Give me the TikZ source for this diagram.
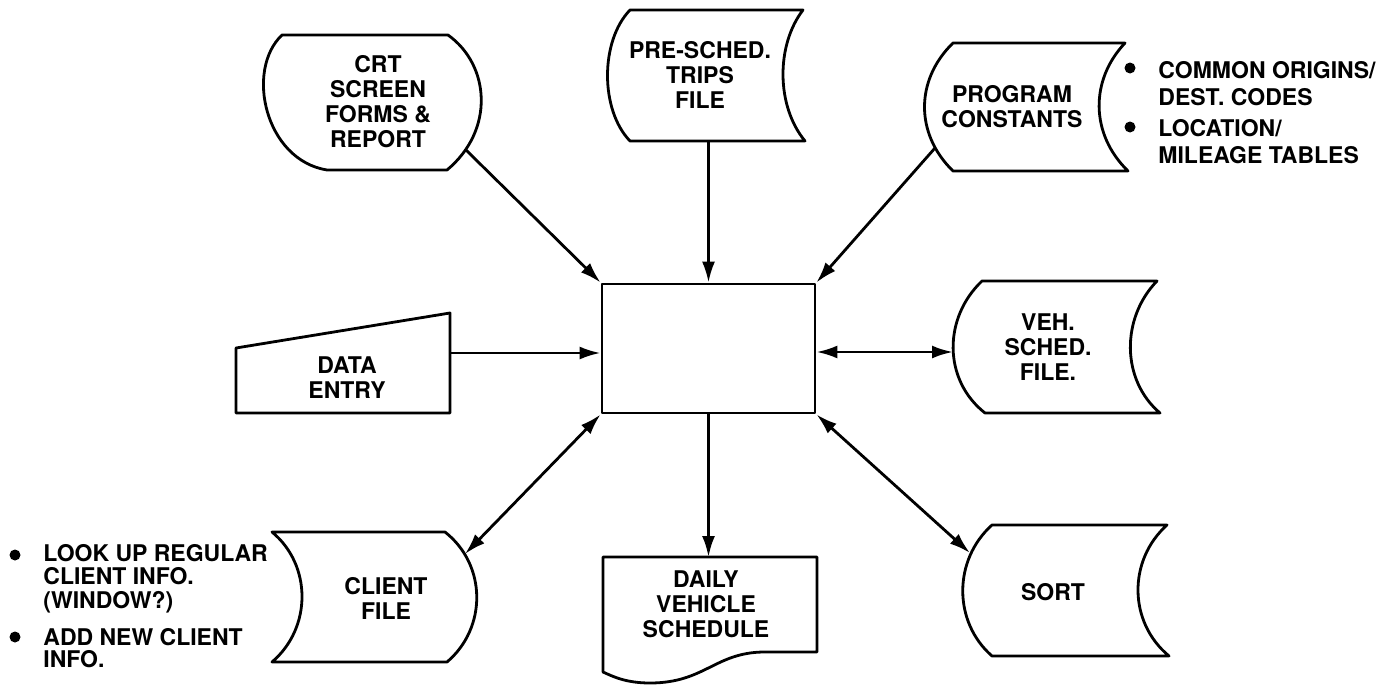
\documentclass[tikz,border=0pt]{standalone}
\usepackage{fontspec}
\setmainfont{TeX Gyre Heros}
\usetikzlibrary{arrows.meta}

\begin{document}
\begin{tikzpicture}[x=0.5pt, y=-0.5pt, line width=1.4pt, line join=round,
    font=\fontsize{11.5}{12.5}\selectfont\bfseries]
    \tikzset{ lbl/.style={align=center, inner sep=0pt},
              note/.style={align=left, anchor=west, inner sep=0pt},
              dot/.style={circle, fill, inner sep=0pt, minimum size=5.5pt},
              arr/.style={-{Latex[length=10.5pt, width=6.5pt]}},
              biarr/.style={{Latex[length=10.5pt, width=6.5pt]}-{Latex[length=10.5pt, width=6.5pt]}} }
    \useasboundingbox (0,0) rectangle (1393,685);

    \node[draw, minimum width=106.5pt, minimum height=64.5pt, inner sep=0pt] (proc) at (708.5,348.5) {};

    % crt screen forms
    \draw (282,35) -- (448,35) .. controls (490,65) and (495,130) .. (447,170) -- (327,170) .. controls (265,160) and (245,70) .. cycle;
    \node[lbl] (crt) at (378,102) {CRT\\SCREEN\\FORMS \&\\REPORT};
    \coordinate (crtout) at (466,150);

    % pre-scheduled trips
    \draw (630,10) -- (803,10) .. controls (776,45) and (776,106) .. (805,141) -- (630,141) .. controls (600,110) and (600,41) .. cycle;
    \node[lbl] (pre) at (700,75) {PRE-SCHED.\\TRIPS\\FILE};
    \coordinate (preout) at (708.5,141);

    % program constants
    \draw (953,43) -- (1125,43) .. controls (1090,80) and (1090,134) .. (1128,171) -- (953,171) .. controls (915,134) and (915,80) .. cycle;
    \node[lbl] (const) at (1012,107) {PROGRAM\\CONSTANTS};
    \coordinate (constout) at (935,148);
    \node[dot] (b1) at (1130,68) {};
    \node[note, font=\fontsize{11.5}{13.5}\selectfont\bfseries] (codes) at (1157,83.5) {COMMON ORIGINS/\\DEST. CODES};
    \node[dot] (b2) at (1130,127) {};
    \node[note, font=\fontsize{11.5}{13.5}\selectfont\bfseries] (tables) at (1157,141.5) {LOCATION/\\MILEAGE TABLES};

    % data entry
    \draw (236,348) -- (450,313) -- (450,413) -- (236,413) -- cycle;
    \node[lbl] (entry) at (347,377.5) {DATA\\ENTRY};
    \coordinate (entryout) at (450,353);

    % vehicle schedule file
    \draw (982,281) -- (1157,281) .. controls (1121,318) and (1121,380) .. (1160,413) -- (985,413) .. controls (943,380) and (943,318) .. cycle;
    \node[lbl] (veh) at (1048,347) {VEH.\\SCHED.\\FILE.};
    \coordinate (vehin) at (953,352);

    % client file
    \draw (272,532) -- (445,532) .. controls (487,565) and (487,628) .. (447,662) -- (272,662) .. controls (312,628) and (312,565) .. cycle;
    \node[lbl] (client) at (386,598.5) {CLIENT\\FILE};
    \coordinate (clientin) at (465,554);
    \node[dot] (b3) at (15,555) {};
    \node[note, font=\fontsize{11.5}{11.75}\selectfont\bfseries] (lookup) at (42,578.5) {LOOK UP REGULAR\\CLIENT INFO.\\(WINDOW?)};
    \node[dot] (b4) at (15,637) {};
    \node[note, font=\fontsize{11.5}{11}\selectfont\bfseries] (addnew) at (42,648) {ADD NEW CLIENT\\INFO.};

    % daily schedule
    \draw (603,557) -- (817,557) -- (817,652) -- (765,652) .. controls (715,652) and (705,683) .. (650,683) .. controls (625,683) and (612,676) .. (603,672) -- cycle;
    \node[lbl] (daily) at (706,604) {DAILY\\VEHICLE\\SCHEDULE};
    \coordinate (dailyin) at (708.5,557);

    % sort
    \draw (992,525) -- (1167,525) .. controls (1128,560) and (1128,622) .. (1169,656) -- (992,656) .. controls (953,622) and (953,560) .. cycle;
    \node[lbl] (sort) at (1053,592) {SORT};
    \coordinate (sortin) at (970,553);

    % connectors
    \draw[arr] (crtout) -- (proc.north west);
    \draw[arr] (preout) -- (proc.north);
    \draw[arr] (constout) -- (proc.north east);
    \draw[arr] (entryout) -- (entryout -| proc.west);
    \draw[biarr] (vehin -| proc.east) -- (vehin);
    \draw[biarr] (proc.south west) -- (clientin);
    \draw[arr] (proc.south) -- (dailyin);
    \draw[biarr] (proc.south east) -- (sortin);
\end{tikzpicture}
\end{document}
